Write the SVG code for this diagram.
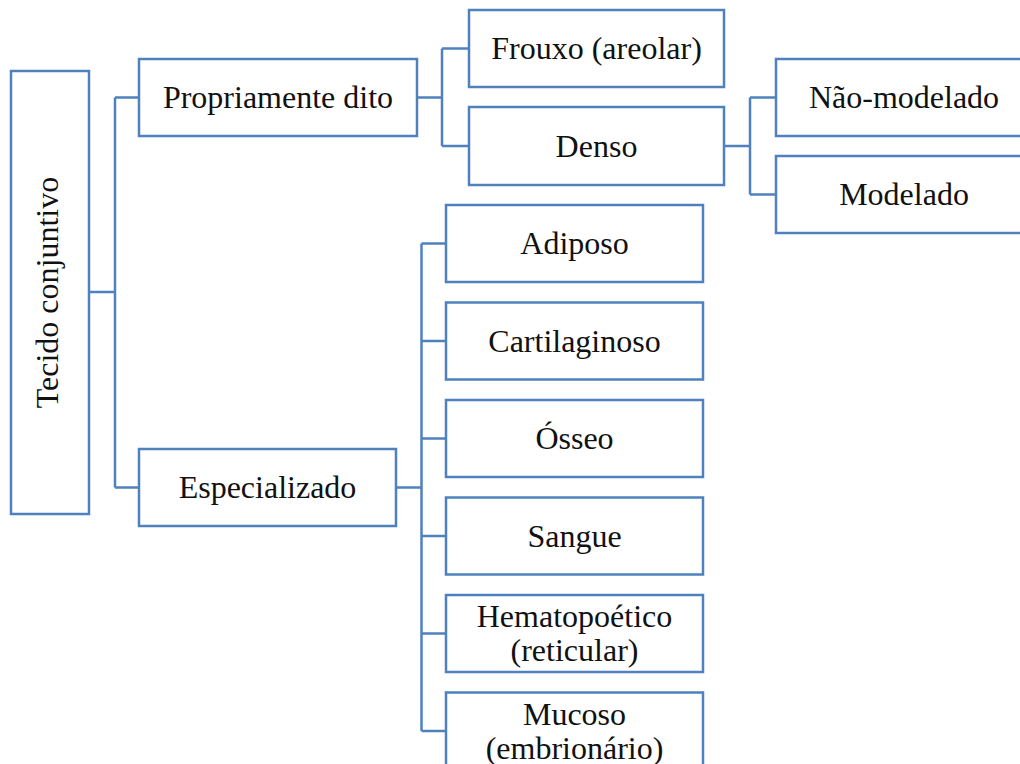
<svg xmlns="http://www.w3.org/2000/svg" width="1020" height="764" viewBox="0 0 1020 764">
<style>
.box{fill:#fff;stroke:#4F81BD;stroke-width:2.5}
.lbl{font-family:"Liberation Serif","Times New Roman",serif;font-size:32px;fill:#111;text-anchor:middle}
.con{fill:none;stroke:#4F81BD;stroke-width:2.5}
</style>
<rect width="1020" height="764" fill="#fff"/>
<g id="connectors">
<path class="con" d="M89,292 H115 M115,97.5 V487.5 M115,97.5 H139 M115,487.5 H139"/>
<path class="con" d="M417,97.5 H442 M442,48.5 V146 M442,48.5 H469 M442,146 H469"/>
<path class="con" d="M724,146 H750 M750,97.5 V194.5 M750,97.5 H776 M750,194.5 H776"/>
<path class="con" d="M396,487.5 H421.5 M421.5,243.5 V731 M421.5,243.5 H446 M421.5,341 H446 M421.5,438.5 H446 M421.5,536 H446 M421.5,633.5 H446 M421.5,731 H446"/>
</g>
<g id="tecido"><rect class="box" x="11" y="71" width="78" height="443"/><text class="lbl" transform="translate(58,292.5) rotate(-90)">Tecido conjuntivo</text></g>
<g id="propriamente"><rect class="box" x="139" y="59" width="278" height="77"/><text class="lbl" x="278" y="107.5">Propriamente dito</text></g>
<g id="especializado"><rect class="box" x="139" y="449" width="257" height="77"/><text class="lbl" x="267.5" y="498">Especializado</text></g>
<g id="frouxo"><rect class="box" x="469" y="10" width="255" height="77"/><text class="lbl" x="596.5" y="59">Frouxo (areolar)</text></g>
<g id="denso"><rect class="box" x="469" y="107" width="255" height="78"/><text class="lbl" x="596.5" y="156.5">Denso</text></g>
<g id="naomodelado"><rect class="box" x="776" y="59" width="256" height="77"/><text class="lbl" x="904" y="108">Não-modelado</text></g>
<g id="modelado"><rect class="box" x="776" y="156" width="256" height="77"/><text class="lbl" x="904" y="205">Modelado</text></g>
<g id="adiposo"><rect class="box" x="446" y="205" width="257" height="77"/><text class="lbl" x="574.5" y="254">Adiposo</text></g>
<g id="cartilaginoso"><rect class="box" x="446" y="302.5" width="257" height="77"/><text class="lbl" x="574.5" y="351.5">Cartilaginoso</text></g>
<g id="osseo"><rect class="box" x="446" y="400" width="257" height="77"/><text class="lbl" x="574.5" y="449">Ósseo</text></g>
<g id="sangue"><rect class="box" x="446" y="497.5" width="257" height="77"/><text class="lbl" x="574.5" y="546.5">Sangue</text></g>
<g id="hematopoetico"><rect class="box" x="446" y="595" width="257" height="77"/><text class="lbl" x="574.5" y="627">Hematopoético</text><text class="lbl" x="574.5" y="661">(reticular)</text></g>
<g id="mucoso"><rect class="box" x="446" y="692.5" width="257" height="77"/><text class="lbl" x="574.5" y="725">Mucoso</text><text class="lbl" x="574.5" y="759">(embrionário)</text></g>
</svg>
